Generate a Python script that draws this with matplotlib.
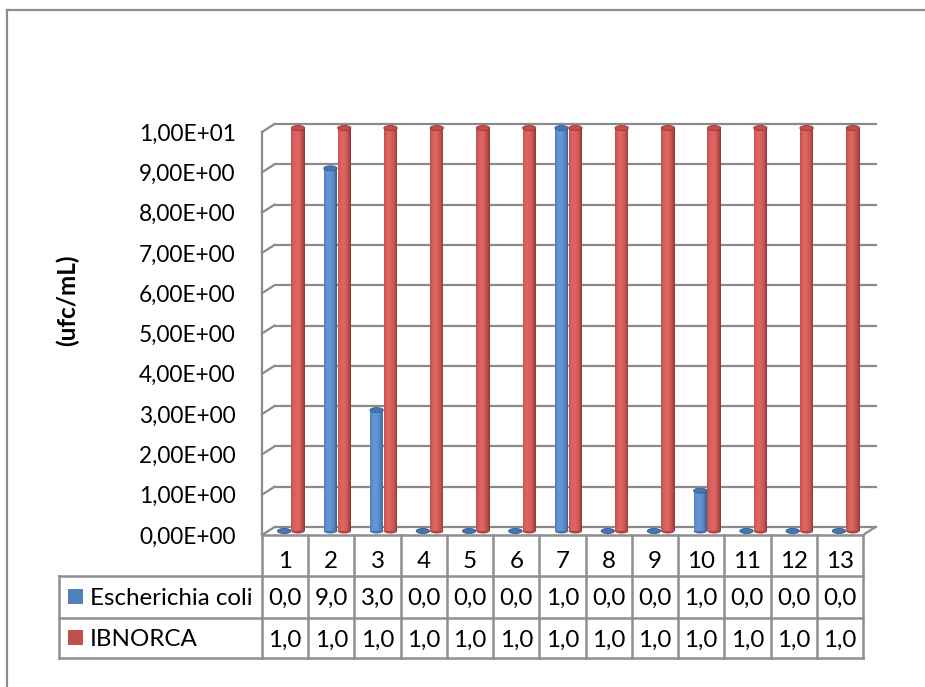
import numpy as np
import matplotlib
matplotlib.use("Agg")
import matplotlib.pyplot as plt
import matplotlib.transforms as mtransforms
from matplotlib.lines import Line2D
from matplotlib.patches import Ellipse, Rectangle

# ---- data ----
categories = [str(i) for i in range(1, 14)]
series_names = ["Escherichia coli", "IBNORCA"]
ecoli = [0, 9, 3, 0, 0, 0, 10, 0, 0, 1, 0, 0, 0]
ibnorca = [10, 10, 10, 10, 10, 10, 10, 10, 10, 10, 10, 10, 10]
y_ticks = [0, 1, 2, 3, 4, 5, 6, 7, 8, 9, 10]
y_title = "(ufc/mL)"

FONT = "Lato"
plt.rcParams["font.family"] = [FONT, "DejaVu Sans"]

W, H = 925, 687
fig = plt.figure(figsize=(W / 100, H / 100), dpi=100)
fig.patch.set_facecolor("white")

GRID = "#8a8a8a"
LINE = "#8f8f8f"


def fx(px):
    return px / W


def fy(py):
    return 1 - py / H


# plot area (front plane of the 3-D box)
L, R, T, B = 262, 863, 132, 535
ax = fig.add_axes([fx(L), fy(B), fx(R - L), (B - T) / H])
ax.set_xlim(0.5, len(categories) + 0.5)
ax.set_ylim(0, 10)
for s in ax.spines.values():
    s.set_visible(False)
ax.set_xticks([])
ax.set_yticks(y_ticks)
ax.set_yticklabels([f"{v:.2E}".replace(".", ",") for v in y_ticks])
ax.tick_params(axis="y", length=0, pad=19, labelsize=16.3)
ax.patch.set_alpha(0)

# depth offsets (in pixels) for the back wall and the middle of the box
DBX, DBY = 12.5, 8
DMX, DMY = 6, 4
back = ax.transData + mtransforms.ScaledTranslation(DBX / 100, DBY / 100, fig.dpi_scale_trans)
mid = ax.transData + mtransforms.ScaledTranslation(DMX / 100, DMY / 100, fig.dpi_scale_trans)
ident = mtransforms.IdentityTransform()

x0, x1 = ax.get_xlim()

# outer chart frame
fig.add_artist(Line2D([fx(7), fx(7)], [fy(10), fy(H + 20)], color="#8c8c8c", lw=1.6,
                      transform=fig.transFigure))
fig.add_artist(Line2D([fx(7), fx(W + 20)], [fy(10), fy(10)], color="#8c8c8c", lw=1.6,
                      transform=fig.transFigure))

# back-wall gridlines and side-wall diagonals
for v in y_ticks:
    ax.plot([x0, x1], [v, v], transform=back, color=GRID, lw=1.6, clip_on=False, zorder=1)
    p = ax.transData.transform((x0, v))
    fig.add_artist(Line2D([p[0], p[0] + DBX], [p[1], p[1] + DBY], transform=ident,
                          color=GRID, lw=1.6))
# floor right edge
p = ax.transData.transform((x1, 0))
fig.add_artist(Line2D([p[0], p[0] + DBX], [p[1], p[1] + DBY], transform=ident,
                      color=GRID, lw=1.6))
# front-left vertical edge of the side wall
ax.plot([x0, x0], [0, 10], color=GRID, lw=1.6, clip_on=False, zorder=1)

# ---- cylinders ----
bar_w = 0.29
off = 0.15
px_per_unit = (B - T) / 10.0
ell_h = 5.0 / px_per_unit
NSTRIP = 16


def mix(c1, c2, t):
    return tuple((a + (b - a) * t) / 255 for a, b in zip(c1, c2))


palettes = {
    "Escherichia coli": dict(dark=(50, 88, 140), light=(100, 150, 212), top=(70, 118, 178),
                             edge=(55, 95, 150)),
    "IBNORCA": dict(dark=(140, 50, 48), light=(222, 100, 96), top=(196, 78, 74),
                    edge=(150, 55, 52)),
}


def cylinder(xc, h, pal):
    ax.add_patch(Ellipse((xc, 0), bar_w, ell_h, transform=mid,
                         facecolor=mix(pal["dark"], pal["light"], 0.4),
                         edgecolor="none", zorder=3, clip_on=False))
    if h > 0:
        edges = np.linspace(xc - bar_w / 2, xc + bar_w / 2, NSTRIP + 1)
        for k in range(NSTRIP):
            t = (k + 0.5) / NSTRIP
            wgt = max(0.0, 1 - ((t - 0.4) / 0.62) ** 2)
            ax.bar(edges[k], h, width=edges[k + 1] - edges[k], align="edge", transform=mid,
                   color=mix(pal["dark"], pal["light"], wgt), lw=0, zorder=3, clip_on=False)
    ax.add_patch(Ellipse((xc, h), bar_w, ell_h, transform=mid,
                         facecolor=mix(pal["top"], pal["top"], 0),
                         edgecolor=mix(pal["edge"], pal["edge"], 0), lw=0.6, zorder=4,
                         clip_on=False))


xs = np.arange(1, len(categories) + 1)
for i, xc in enumerate(xs):
    cylinder(xc - off, ecoli[i], palettes["Escherichia coli"])
    cylinder(xc + off, ibnorca[i], palettes["IBNORCA"])

# ---- data table ----
row_y = [535, 576, 618, 658]
leg_left = 59
tf = mtransforms.blended_transform_factory(ax.transData, fig.transFigure)


def hline(xa, xb, y):
    fig.add_artist(Line2D([fx(xa), fx(xb)], [fy(y), fy(y)], transform=fig.transFigure,
                          color=LINE, lw=1.8))


p_left = ax.transData.transform((x0, 0))[0]
p_right = ax.transData.transform((x1, 0))[0]
hline(p_left, p_right, row_y[0])
for y in row_y[1:]:
    hline(leg_left, p_right, y)
for b in np.arange(x0, x1 + 0.01, 1.0):
    fig.add_artist(Line2D([b, b], [fy(row_y[0]), fy(row_y[3])], transform=tf, color=LINE, lw=1.8))
fig.add_artist(Line2D([fx(leg_left)] * 2, [fy(row_y[1]), fy(row_y[3])], transform=fig.transFigure,
                      color=LINE, lw=1.8))


def mantissa(v):
    return f"{v:.1E}".split("E")[0].replace(".", ",")


TS = 17.4
for i, xc in enumerate(xs):
    fig.text(xc, fy(568), categories[i], transform=tf, ha="center", va="baseline", fontsize=TS)
    fig.text(xc, fy(605), mantissa(ecoli[i]), transform=tf, ha="center", va="baseline", fontsize=TS)
    fig.text(xc, fy(647), mantissa(ibnorca[i]), transform=tf, ha="center", va="baseline", fontsize=TS)

# legend keys inside the table
for name, yb, col in [(series_names[0], 605, "#4F81BD"), (series_names[1], 646, "#C0504D")]:
    fig.add_artist(Rectangle((fx(68), fy(yb - 1)), fx(15), 15 / H, transform=fig.transFigure,
                             facecolor=col, edgecolor="none"))
    fig.text(fx(90), fy(yb), name, ha="left", va="baseline", fontsize=TS)

# axis title
fig.text(fx(67), fy(300), y_title, rotation=90, ha="center", va="center", fontsize=17.5,
         fontweight="bold")

fig.savefig("out.png", dpi=100, facecolor="white")
